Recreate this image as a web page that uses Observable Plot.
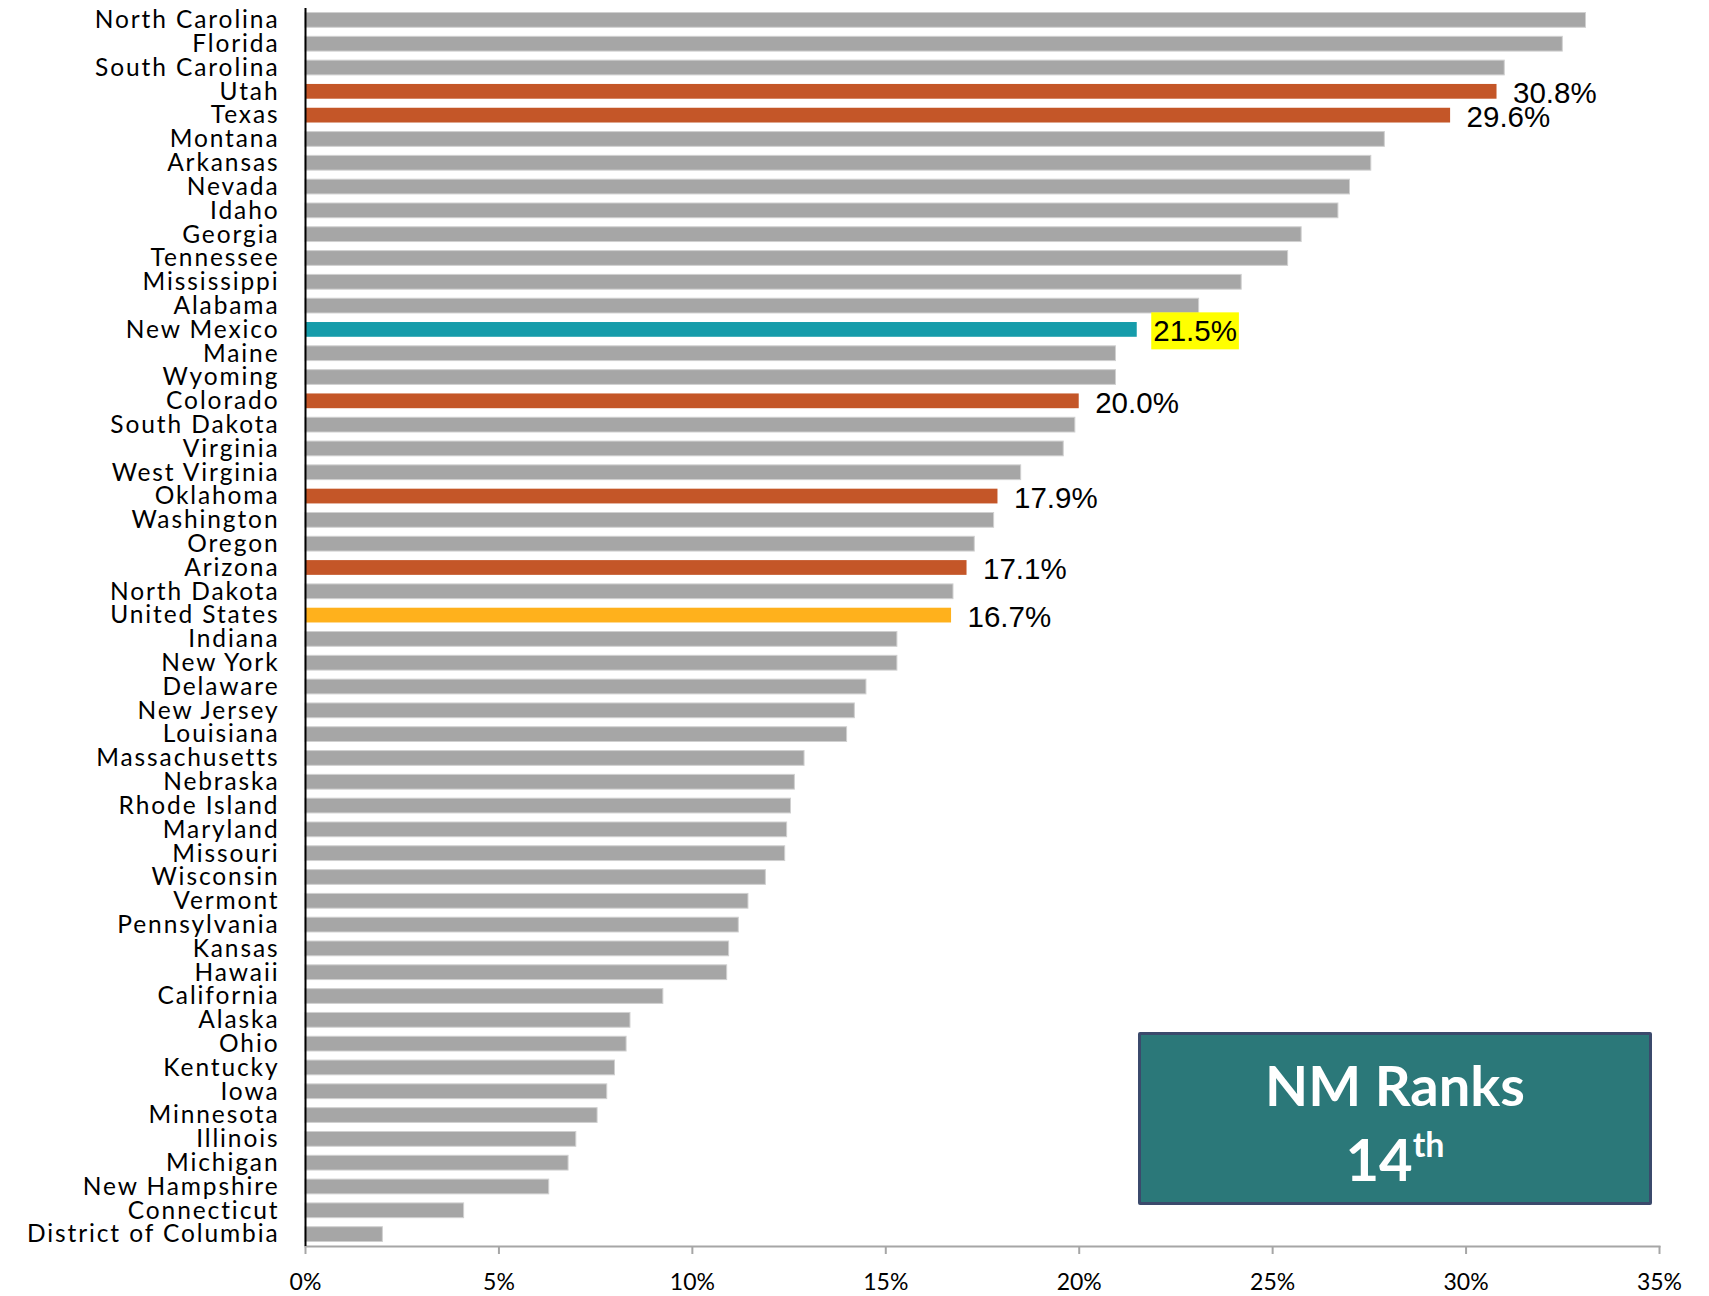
<!DOCTYPE html>
<html>
<head>
<meta charset="utf-8">
<script src="https://cdn.jsdelivr.net/npm/d3@7"></script>
<script src="https://cdn.jsdelivr.net/npm/@observablehq/plot@0.6"></script>
<style>
  html, body { margin: 0; padding: 0; background: #fff; }
  #wrap { position: relative; width: 1709px; height: 1296px; }
  #chart g[aria-label="y-axis tick label"] text { letter-spacing: 1.9px; }
  #badge {
    position: absolute; left: 1138px; top: 1032px; width: 508px; height: 167px;
    background: #2b7879; border: 3px solid #3b4a6c; border-radius: 2px;
    color: #fff; font-family: Lato, "Noto Sans", sans-serif; font-weight: 700;
    text-align: center; box-sizing: content-box;
  }
  #badge .l1 { position: absolute; left: 0; right: 0; top: 18px; font-size: 56px; line-height: 64px; }
  #badge .l2 { position: absolute; left: 0; right: 0; top: 92px; font-size: 58px; line-height: 64px; }
  #badge sup { font-size: 34px; vertical-align: 0; position: relative; top: -24px; }
</style>
</head>
<body>
<div id="wrap">
  <div id="chart"></div>
  <div id="badge"><div class="l1">NM Ranks</div><div class="l2">14<sup>th</sup></div></div>
</div>
<script>
const states = ["North Carolina","Florida","South Carolina","Utah","Texas","Montana","Arkansas","Nevada","Idaho","Georgia","Tennessee","Mississippi","Alabama","New Mexico","Maine","Wyoming","Colorado","South Dakota","Virginia","West Virginia","Oklahoma","Washington","Oregon","Arizona","North Dakota","United States","Indiana","New York","Delaware","New Jersey","Louisiana","Massachusetts","Nebraska","Rhode Island","Maryland","Missouri","Wisconsin","Vermont","Pennsylvania","Kansas","Hawaii","California","Alaska","Ohio","Kentucky","Iowa","Minnesota","Illinois","Michigan","New Hampshire","Connecticut","District of Columbia"];
const values = [33.1,32.5,31.0,30.8,29.6,27.9,27.55,27.0,26.7,25.75,25.4,24.2,23.1,21.5,20.95,20.95,20.0,19.9,19.6,18.5,17.9,17.8,17.3,17.1,16.75,16.7,15.3,15.3,14.5,14.2,14.0,12.9,12.65,12.55,12.45,12.4,11.9,11.45,11.2,10.95,10.9,9.25,8.4,8.3,8.0,7.8,7.55,7.0,6.8,6.3,4.1,2.0];
const peerStates = ["Utah","Texas","Colorado","Oklahoma","Arizona"];
const focusState = "New Mexico";
const nationLabel = "United States";
const xTicks = [0,5,10,15,20,25,30,35];

const data = states.map((s, i) => ({
  state: s,
  value: values[i] / 100,
  group: s === focusState ? "focus" : s === nationLabel ? "nation" : peerStates.includes(s) ? "peer" : "other"
}));
const colorOf = {other: "#a6a6a6", peer: "#c45628", focus: "#169caa", nation: "#ffb11c"};
const labeled = data.filter(d => d.group !== "other");
const pct = d3.format(".1%");

const chart = Plot.plot({
  width: 1709,
  height: 1296,
  marginLeft: 305,
  marginRight: 50,
  marginTop: 8,
  marginBottom: 50,
  style: {fontFamily: "Lato, 'Noto Sans', sans-serif", background: "#fff", color: "#000"},
  x: {domain: [0, 0.35]},
  y: {domain: states, paddingInner: 0.38, paddingOuter: 0.19},
  marks: [
    Plot.barX(data, {x: "value", y: "state", fill: d => colorOf[d.group], stroke: d => d.group === "other" ? "#d0d0d0" : "none", strokeWidth: 1}),
    Plot.text(labeled, {x: "value", y: "state", text: d => pct(d.value), textAnchor: "start", dx: 16, dy: 2, fontSize: 29.5, fontFamily: "'Liberation Sans', Arial, sans-serif", fill: "#000"}),
    Plot.axisY({tickSize: 0, tickPadding: 26, fontSize: 24.5, label: null}),
    Plot.axisX({ticks: xTicks.map(t => t / 100), tickFormat: d3.format(".0%"), tickSize: 8, tickPadding: 19, fontSize: 23, label: null, stroke: "#a6a6a6", strokeWidth: 2, color: "#000"}),
    Plot.frame({anchor: "bottom", stroke: "#a6a6a6", strokeWidth: 2}),
    Plot.ruleX([0], {stroke: "#000", strokeWidth: 2})
  ]
});
document.getElementById("chart").appendChild(chart);

// yellow highlight behind the focus label
const focusText = pct(values[states.indexOf(focusState)] / 100);
chart.querySelectorAll("g[aria-label='text'] text").forEach(t => {
  if (t.textContent === focusText) {
    const bb = t.getBBox();
    const r = document.createElementNS("http://www.w3.org/2000/svg", "rect");
    const tr = t.getAttribute("transform");
    r.setAttribute("x", bb.x - 2);
    r.setAttribute("y", bb.y - 2);
    r.setAttribute("width", bb.width + 4);
    r.setAttribute("height", bb.height + 4);
    r.setAttribute("fill", "#ffff00");
    if (tr) r.setAttribute("transform", tr);
    t.parentNode.insertBefore(r, t);
  }
});
</script>
</body>
</html>
